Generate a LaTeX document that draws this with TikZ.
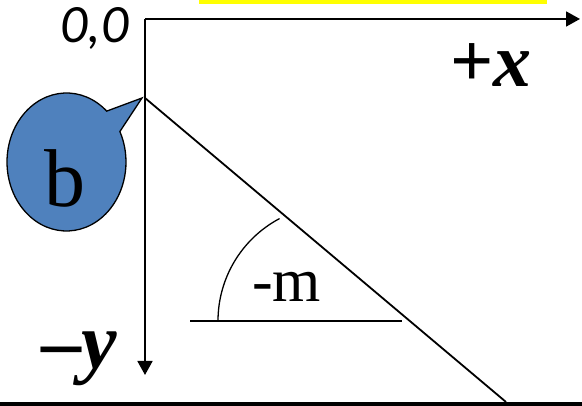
\documentclass[tikz,border=0pt]{standalone}
\usepackage{fontspec}
\setmainfont{Liberation Serif}
\newfontfamily\calfont{Carlito}
\usetikzlibrary{arrows.meta}
\definecolor{bubblue}{HTML}{4F81BD}
\definecolor{hiyellow}{HTML}{FFFF00}
\tikzset{
  axisline/.style={line width=1.8pt, -{Triangle[length=14pt,width=15pt]}},
  plainline/.style={line width=1.8pt},
  lbl/.style={inner sep=0pt, anchor=base west},
  bubble/.style={draw=black, line width=1.3pt, fill=bubblue, line join=miter}
}
\begin{document}
\begin{tikzpicture}[x=1pt,y=1pt]
\useasboundingbox (0,0) rectangle (582,406);
% yellow strip at top
\fill[hiyellow] (199,402) rectangle (547,406);
% bottom rule
\coordinate (bl) at (0,2);
\coordinate (br) at (582,2);
\draw[line width=4pt] (bl) -- (br);
% axes
\coordinate (O) at (145,387);
\coordinate (xend) at (580,387);
\coordinate (yend) at (145,31);
\draw[axisline] (O) -- (xend);
\draw[axisline] (O) -- (yend);
% line with intercept b
\coordinate (B0) at (145,308);
\coordinate (L1) at (506,4);
\draw[plainline] (B0) -- (L1);
% horizontal reference and angle arc
\coordinate (h1) at (190,85);
\coordinate (h2) at (402,85);
\draw[line width=1.7pt] (h1) -- (h2);
\coordinate (arcc) at (334,85);
\draw[line width=1.3pt] (218,85) arc[start angle=180, end angle=118, radius=116];
% labels
\node[lbl, font=\fontsize{54}{58}\selectfont\calfont\itshape] (orig) at (60,363) {0,0};
\node[lbl, font=\fontsize{76}{80}\selectfont\bfseries] (xl) at (450,319) {+\textit{x}};
\node[lbl, font=\fontsize{80}{84}\selectfont\bfseries] (yl) at (41,37) {–\textit{y}};
\node[lbl, font=\fontsize{62}{66}\selectfont] (ml) at (252,104) {-m};
% callout bubble
\coordinate (bc) at (66.5,244);
\coordinate (tip) at (142,308);
\coordinate (pA) at ([shift={(bc)}]47.5:59.5 and 69);
\coordinate (pB) at ([shift={(bc)}]26.2:59.5 and 69);
\draw[bubble] (pB) -- (tip) -- (pA) arc[start angle=47.5, end angle=386.2, x radius=59.5, y radius=69] -- cycle;
\node[lbl, font=\fontsize{82}{86}\selectfont] (bl2) at (44,199) {b};
\end{tikzpicture}
\end{document}
